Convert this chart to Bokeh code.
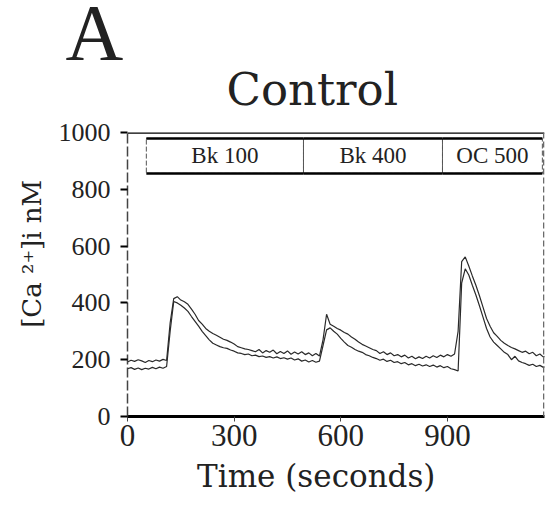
from bokeh.plotting import figure
from bokeh.models import Range1d, FixedTicker, Span, ColumnDataSource
from bokeh.core.properties import value
from bokeh.embed import file_html
from bokeh.resources import INLINE

# ---- data ----
time_s = [0, 10, 20, 30, 40, 50, 60, 70, 80, 90, 100, 110,
          120, 130, 140, 150, 160, 170, 180, 190, 200, 210, 220, 230, 240, 250,
          260, 270, 280, 290, 300, 310, 320, 330, 340, 350, 360, 370, 380, 390,
          400, 410, 420, 430, 440, 450, 460, 470, 480, 490, 500, 510, 520, 530, 540,
          550, 560, 570, 580, 590, 600, 610, 620, 630, 640, 650, 660, 670, 680,
          690, 700, 710, 720, 730, 740, 750, 760, 770, 780, 790, 800, 810, 820,
          830, 840, 850, 860, 870, 880, 890, 900, 910, 920,
          930, 940, 950, 960, 970, 980, 990, 1000, 1010, 1020, 1030, 1040, 1050,
          1060, 1070, 1080, 1090, 1100, 1110, 1120, 1130, 1140, 1150, 1160, 1170, 1180]

cell_a = [192, 198, 194, 200, 196, 190, 197, 193, 199, 195, 201, 197,
          330, 415, 422, 410, 404, 395, 378, 360, 338, 325, 310, 300, 292, 286,
          279, 272, 268, 262, 255, 246, 242, 238, 236, 232, 228, 236, 224, 232,
          226, 234, 221, 229, 222, 231, 219, 227, 220, 228, 218, 224, 214, 222, 213,
          270, 360, 325, 318, 310, 304, 296, 290, 280, 272, 262, 254, 248, 242,
          236, 232, 222, 228, 218, 224, 214, 218, 210, 216, 206, 212, 203, 210,
          204, 212, 206, 214, 208, 216, 210, 218, 212, 220,
          300, 545, 562, 530, 495, 462, 425, 385, 345, 318, 295, 282, 268,
          258, 250, 243, 238, 232, 226, 230, 221, 226, 214, 220, 209, 214]

cell_b = [168, 172, 166, 171, 165, 170, 167, 173, 168, 174, 170, 176,
          300, 405, 400, 392, 382, 370, 352, 335, 318, 300, 285, 270, 258, 252,
          246, 242, 240, 234, 230, 224, 222, 218, 220, 214, 216, 211, 213, 208,
          211, 206, 210, 204, 207, 202, 206, 199, 203, 195, 199, 192, 197, 191, 195,
          250, 305, 312, 300, 290, 275, 262, 250, 244, 236, 230, 226, 218, 214,
          208, 204, 198, 202, 194, 198, 190, 193, 186, 190, 182, 186, 179, 184,
          178, 182, 176, 181, 174, 179, 172, 176, 168, 165,
          160, 470, 520, 498, 462, 428, 390, 350, 310, 280, 262, 250, 238,
          226, 218, 200, 212, 196, 190, 186, 180, 184, 176, 180, 173, 177]

stim_labels = ["Bk 100", "Bk 400", "OC 500"]
stim_start = [53, 495, 886]
stim_end = [495, 886, 1167]
stim_low = 856
stim_high = 979

y_ticks = [0, 200, 400, 600, 800, 1000]
x_ticks = [0, 300, 600, 900]

panel_letter = "A"
title_text = "Control"
x_label = "Time (seconds)"
y_label = "[Ca \u00b2\u207a]i nM"

X_END = 1173
W = 545
HEAD_H = 110

# ---- header (panel letter and title) ----
head = figure(width=W, height=HEAD_H, output_backend="svg", toolbar_location=None,
              x_range=Range1d(0, W), y_range=Range1d(HEAD_H, 0),
              x_axis_type=None, y_axis_type=None,
              min_border_left=0, min_border_right=0, min_border_top=0, min_border_bottom=0)
head.outline_line_color = None
head.xgrid.visible = False
head.ygrid.visible = False
head.text(x=[65], y=[32], text=[panel_letter], text_font=value("Liberation Serif"),
          text_font_size="80px", text_color="#222222", text_align="left",
          text_baseline="middle")
head.text(x=[226], y=[89], text=[title_text], text_font=value("DejaVu Serif"),
          text_font_size="45px", text_color="#222222", text_align="left",
          text_baseline="middle")

# ---- main plot ----
p = figure(width=W, height=504 - HEAD_H, output_backend="svg", toolbar_location=None,
           x_range=Range1d(0, X_END), y_range=Range1d(0, 1000),
           min_border_left=127, min_border_right=1, min_border_top=132 - HEAD_H,
           min_border_bottom=88)
p.outline_line_color = None
p.xgrid.visible = False
p.ygrid.visible = False

# traces
p.line(time_s, cell_a, line_color="#2a2a2a", line_width=1.2)
p.line(time_s, cell_b, line_color="#2a2a2a", line_width=1.2)

# stimulus boxes
mids = [(a + b) / 2 for a, b in zip(stim_start, stim_end)]
src = ColumnDataSource(dict(left=stim_start, right=stim_end, mid=mids, lab=stim_labels,
                            bottom=[stim_low] * 3, top=[stim_high] * 3,
                            ymid=[(stim_low + stim_high) / 2] * 3))
p.quad(left="left", right="right", bottom="bottom", top="top", source=src,
       fill_color=None, line_color="#555555", line_width=1, line_dash="5 2")
p.segment(x0="left", x1="right", y0="top", y1="top", source=src,
          line_color="black", line_width=2.5)
p.segment(x0="left", x1="right", y0="bottom", y1="bottom", source=src,
          line_color="black", line_width=2.5)
p.text(x="mid", y="ymid", text="lab", source=src, text_align="center",
       text_baseline="middle", text_font=value("Liberation Serif"),
       text_font_size="23px", text_color="#222222")

# borders
p.add_layout(Span(location=1000, dimension="width", line_color="black", line_width=2.5))
p.add_layout(Span(location=X_END - 2, dimension="height", line_color="#666666",
                  line_width=1.5, line_dash="6 3"))

# axes
p.yaxis.ticker = FixedTicker(ticks=y_ticks)
p.xaxis.ticker = FixedTicker(ticks=x_ticks)
p.yaxis.minor_tick_line_color = None
p.xaxis.minor_tick_line_color = None
p.yaxis.major_tick_in = 0
p.yaxis.major_tick_out = 7
p.yaxis.major_tick_line_width = 2
p.yaxis.major_tick_line_color = "black"
p.yaxis.axis_line_color = "#444444"
p.yaxis.axis_line_width = 1.5
p.yaxis.axis_line_dash = "10 3"
p.yaxis.major_label_standoff = 10
p.yaxis.major_label_text_font = "Liberation Serif"
p.yaxis.major_label_text_font_size = "26px"
p.yaxis.major_label_text_color = "#222222"
p.yaxis.axis_label = "\u00a0" * 5 + y_label
p.yaxis.axis_label_text_font = "DejaVu Serif"
p.yaxis.axis_label_text_font_size = "26px"
p.yaxis.axis_label_text_font_style = "normal"
p.yaxis.axis_label_text_color = "#222222"
p.yaxis.axis_label_standoff = 9

p.xaxis.major_tick_in = 0
p.xaxis.major_tick_out = 5
p.xaxis.major_tick_line_width = 1
p.xaxis.major_tick_line_color = "#444444"
p.xaxis.axis_line_color = "black"
p.xaxis.axis_line_width = 3
p.xaxis.major_label_standoff = 3
p.xaxis.major_label_text_font = "Liberation Serif"
p.xaxis.major_label_text_font_size = "31px"
p.xaxis.major_label_text_color = "#222222"
p.xaxis.axis_label = x_label + "\u00a0" * 4
p.xaxis.axis_label_text_font = "DejaVu Serif"
p.xaxis.axis_label_text_font_size = "31px"
p.xaxis.axis_label_text_font_style = "normal"
p.xaxis.axis_label_text_color = "#222222"
p.xaxis.axis_label_standoff = 9

open("out.html", "w").write(file_html([head, p], INLINE))
